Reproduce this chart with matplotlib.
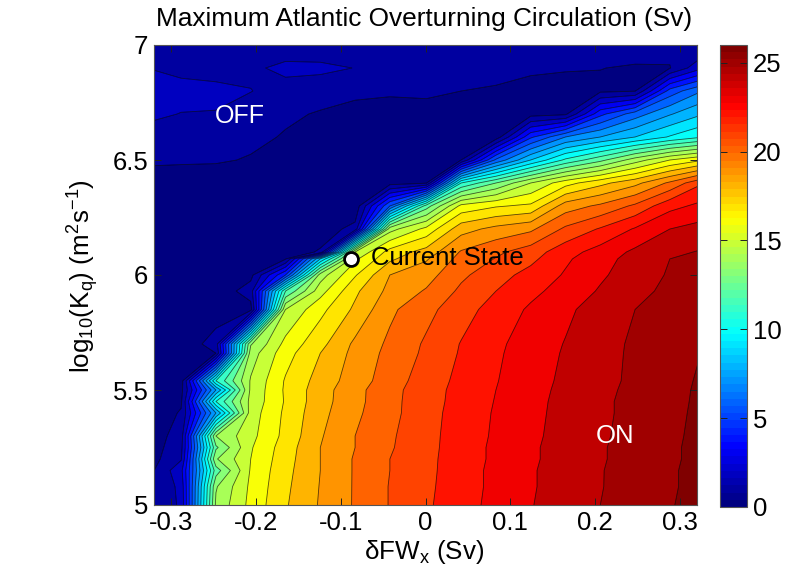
import numpy as np
import matplotlib
matplotlib.use("Agg")
import matplotlib.pyplot as plt
from matplotlib.colors import LinearSegmentedColormap, Normalize
from matplotlib.cm import ScalarMappable

plt.rcParams['font.family'] = ['Liberation Sans', 'DejaVu Sans']
plt.rcParams['mathtext.fontset'] = 'custom'
plt.rcParams['mathtext.rm'] = 'Liberation Sans'
plt.rcParams['mathtext.it'] = 'Liberation Sans'
plt.rcParams['mathtext.default'] = 'regular'

fw_x = [-0.329, -0.288, -0.247, -0.206, -0.165, -0.124, -0.083, -0.042, 0.001,
        0.042, 0.083, 0.124, 0.165, 0.206, 0.247, 0.288, 0.329]
log_kq = [5.00, 5.08, 5.15, 5.20, 5.25, 5.30, 5.40, 5.45, 5.50, 5.54, 5.66, 5.70,
          5.85, 5.93, 6.00, 6.07, 6.10, 6.20, 6.30, 6.40, 6.50, 6.60, 6.70, 6.80, 6.90, 7.00]
overturning_sv = [
    [.65, 2.2, 14.2, 16.3, 17.9, 19.1, 20.1, 21.05, 21.85, 22.6, 23.3, 23.95, 24.5, 25.0, 25.45, 25.95, 26.3],
    [.6, 2.3, 13.9, 16.2, 17.8, 19.05, 20.1, 21.05, 21.8, 22.55, 23.25, 23.9, 24.45, 24.95, 25.45, 25.9, 26.3],
    [.5, 2.7, 12.5, 16.1, 17.7, 19.0, 20.1, 21.0, 21.75, 22.55, 23.25, 23.9, 24.45, 24.95, 25.4, 25.9, 26.3],
    [.4, 1.9, 13.9, 16.0, 17.6, 19.0, 20.1, 21.0, 21.75, 22.5, 23.2, 23.85, 24.4, 24.9, 25.4, 25.85, 26.3],
    [.3, 1.7, 12.8, 15.9, 17.5, 19.0, 20.0, 20.9, 21.7, 22.5, 23.2, 23.85, 24.4, 24.9, 25.4, 25.85, 26.3],
    [.25, 1.5, 14.0, 15.7, 17.3, 18.9, 20.0, 20.85, 21.7, 22.45, 23.15, 23.8, 24.35, 24.85, 25.35, 25.8, 26.3],
    [.2, 1.1, 8.0, 15.5, 17.2, 18.7, 19.8, 20.7, 21.65, 22.4, 23.1, 23.75, 24.3, 24.8, 25.3, 25.75, 26.25],
    [.2, .85, 11.0, 15.3, 17.1, 18.6, 19.7, 20.7, 21.6, 22.35, 23.05, 23.7, 24.3, 24.8, 25.3, 25.75, 26.2],
    [.2, .7, 8.0, 15.2, 17.15, 18.55, 19.7, 20.65, 21.6, 22.3, 23.0, 23.65, 24.25, 24.75, 25.25, 25.7, 26.2],
    [.2, .5, 11.0, 15.1, 17.1, 18.4, 19.5, 20.5, 21.5, 22.25, 22.95, 23.6, 24.2, 24.7, 25.2, 25.7, 26.15],
    [.15, .3, 1.0, 14.5, 16.6, 18.0, 19.3, 20.3, 21.2, 22.1, 22.85, 23.5, 24.1, 24.7, 25.15, 25.6, 26.05],
    [.15, .25, 1.5, 13.9, 16.3, 17.7, 19.2, 20.2, 21.15, 22.05, 22.8, 23.45, 24.05, 24.65, 25.15, 25.6, 25.98],
    [.1, .2, .4, .6, 15.0, 16.7, 18.2, 19.8, 20.7, 21.6, 22.4, 23.15, 23.8, 24.45, 25.0, 25.45, 25.8],
    [.1, .2, .3, 1.5, 12.0, 15.6, 17.8, 19.3, 20.1, 21.2, 22.0, 22.75, 23.4, 24.1, 24.75, 25.2, 25.55],
    [.1, .15, .2, .7, 5.0, 14.5, 16.9, 19.0, 19.6, 20.8, 21.6, 22.35, 23.1, 23.85, 24.5, 25.1, 25.4],
    [.1, .15, .2, .3, .9, 9.0, 15.8, 17.8, 18.9, 20.35, 21.05, 21.75, 22.85, 23.6, 24.4, 25.0, 25.3],
    [.1, .15, .2, .25, .5, 1.1, 15.0, 17.4, 18.4, 20.1, 20.8, 21.5, 22.6, 23.4, 24.2, 24.8, 25.1],
    [.1, .15, .2, .2, .3, .5, 1.3, 14.6, 16.3, 18.6, 19.3, 19.8, 21.2, 22.1, 23.1, 24.0, 24.4],
    [.1, .15, .2, .2, .2, .3, .3, 6.0, 12.5, 16.3, 16.9, 17.2, 19.5, 20.2, 21.2, 22.7, 23.3],
    [.15, .2, .2, .2, .2, .25, .3, .6, .9, 11.0, 13.0, 15.0, 16.6, 17.7, 18.7, 20.2, 22.0],
    [1.3, 1.2, 1.15, .9, .4, .4, .45, .5, .7, 1.0, 6.2, 9.0, 11.2, 12.7, 14.5, 16.0, 17.0],
    [1.75, 1.6, 1.55, 1.3, .9, .5, .5, .55, .6, .5, .4, 4.8, 7.0, 8.0, 9.0, 10.1, 11.0],
    [2.15, 1.98, 1.96, 1.65, 1.2, .9, .7, .7, .8, .6, .6, .6, .8, 4.7, 6.5, 7.9, 9.0],
    [2.3, 2.25, 2.2, 2.02, 1.7, 1.5, 1.2, 1.1, 1.1, 1.0, .9, .8, .75, .8, .95, 5.4, 7.1],
    [2.0, 1.8, 1.7, 1.85, 2.2, 2.2, 1.98, 1.4, 1.3, 1.35, 1.3, 1.1, 1.05, 1.02, .9, .95, 3.0],
    [1.5, 1.3, 1.3, 1.3, 1.5, 1.4, 1.4, 1.4, 1.4, 1.5, 1.5, 1.5, 1.6, 1.6, 1.5, 1.3, 1.2],
]
contour_levels = list(range(0, 28))
x_ticks = [-0.3, -0.2, -0.1, 0, 0.1, 0.2, 0.3]
x_tick_labels = ['-0.3', '-0.2', '-0.1', '0', '0.1', '0.2', '0.3']
y_ticks = [5, 5.5, 6, 6.5, 7]
y_tick_labels = ['5', '5.5', '6', '6.5', '7']
cbar_ticks = [0, 5, 10, 15, 20, 25]
current_state = (-0.0876, 6.07)

# MATLAB-style jet with 64 colour steps
matlab_jet = LinearSegmentedColormap('matlab_jet', {
    'red': [(0, 0, 0), (.375, 0, 0), (.625, 1, 1), (.875, 1, 1), (1, .5, .5)],
    'green': [(0, 0, 0), (.125, 0, 0), (.375, 1, 1), (.625, 1, 1), (.875, 0, 0), (1, 0, 0)],
    'blue': [(0, .5, .5), (.125, 1, 1), (.375, 1, 1), (.625, 0, 0), (1, 0, 0)],
}, N=64)
norm = Normalize(0, 26)

W, H = 788, 577
FS = 18.5
fig = plt.figure(figsize=(W / 100, H / 100), dpi=100)
ax = fig.add_axes([154 / W, 1 - 505 / H, (697 - 154) / W, (505 - 45) / H])
cax = fig.add_axes([720 / W, 1 - 507 / H, 27 / W, 462 / H])

X = np.array(fw_x)
Y = np.array(log_kq)
Z = np.array(overturning_sv)
band_colors = [matlab_jet(norm(min(l, 26))) for l in contour_levels[:-1]]
ax.contourf(X, Y, Z, levels=contour_levels, colors=band_colors, antialiased=True)
ax.contourf(X, Y, Z, levels=contour_levels, colors=band_colors, antialiased=True)
ax.contour(X, Y, Z, levels=contour_levels[1:-1], colors='black', linewidths=0.6, alpha=0.65)

ax.set_xlim(-0.32, 0.32)
ax.set_ylim(5, 7)
ax.set_xticks(x_ticks, x_tick_labels)
ax.set_yticks(y_ticks, y_tick_labels)
ax.tick_params(direction='in', top=True, right=True, length=5, width=0.7,
               color='#222222', labelsize=FS, pad=4)
for s in ax.spines.values():
    s.set_linewidth(0.8)
    s.set_color('#555555')

fig.text(424 / W, 1 - 19 / H, 'Maximum Atlantic Overturning Circulation (Sv)', fontsize=18.9,
         ha='center', va='center')
fig.text(424 / W, 1 - 552 / H, 'δFW$_x$ (Sv)', fontsize=18.7, ha='center', va='center')
fig.text(83 / W, 1 - 276 / H, 'log$_{10}$(K$_q$) (m$^2$s$^{-1}$)', fontsize=18.7,
         ha='center', va='center', rotation=90)

ax.plot(*current_state, 'o', ms=10, mfc='white', mec='black', mew=2, zorder=5)
ax.annotate('Current State', current_state, xytext=(14.4, 0.5), textcoords='offset points',
            ha='left', va='center', fontsize=FS, color='black', zorder=6)
ax.text(-0.2187, 6.69, 'OFF', color='white', fontsize=18, ha='center', va='center')
ax.text(0.2229, 5.30, 'ON', color='white', fontsize=FS, ha='center', va='center')

cb = fig.colorbar(ScalarMappable(norm=norm, cmap=matlab_jet), cax=cax, ticks=cbar_ticks)
cb.ax.tick_params(direction='in', length=5, width=0.7, color='#222222', labelsize=FS, pad=4, left=True, right=True)
cb.outline.set_linewidth(0.8)
cb.outline.set_edgecolor('#555555')

fig.savefig('out.png', dpi=100)
